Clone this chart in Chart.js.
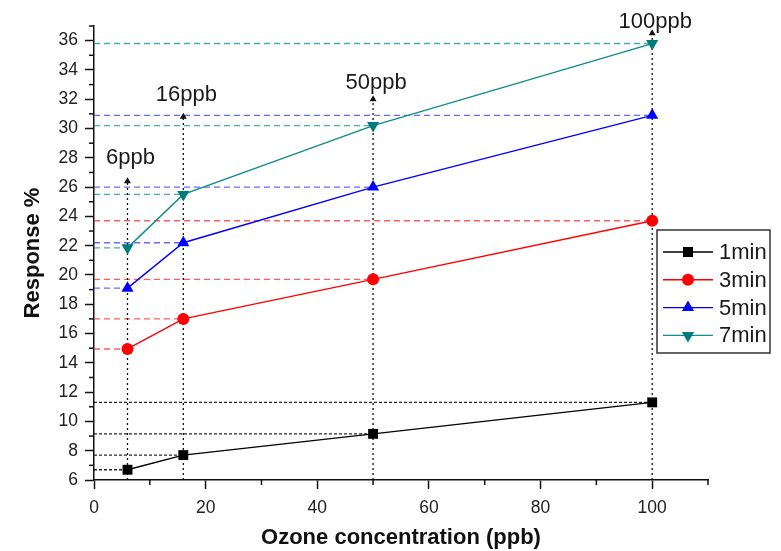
<!DOCTYPE html>
<html>
<head>
<meta charset="utf-8">
<script src="https://cdn.jsdelivr.net/npm/chart.js@4/dist/chart.umd.min.js"></script>
<style>
  body { margin: 0; background: #fff; }
</style>
</head>
<body>
<canvas id="myChart" width="781" height="551"></canvas>
<script>
// data
const concentrations = [6, 16, 50, 100];
const seriesNames = ['1min', '3min', '5min', '7min'];
const resp1min = [6.7, 7.7, 9.15, 11.3];
const resp3min = [14.95, 17.0, 19.7, 23.7];
const resp5min = [19.1, 22.2, 26.0, 30.9];
const resp7min = [21.85, 25.5, 30.2, 35.8];
const markLabels = ['6ppb', '16ppb', '50ppb', '100ppb'];
const arrowTops = [26.4, 30.8, 32.0, 36.5];
const labelY = [28.0, 32.3, 33.1, 37.3];
const yTicks = [6, 8, 10, 12, 14, 16, 18, 20, 22, 24, 26, 28, 30, 32, 34, 36];
const xTicks = [0, 20, 40, 60, 80, 100];

const FONT = 'Liberation Sans, Arial, sans-serif';
const allResp = [resp1min, resp3min, resp5min, resp7min];
const lineColors = ['#000000', '#ff0000', '#0000ff', '#0f8c8c'];
const markColors = ['#000000', '#ff0000', '#0000ff', '#007b7b'];
const guideColors = ['rgba(0,0,0,0.85)', 'rgba(255,40,40,0.75)', 'rgba(40,40,255,0.7)', 'rgba(20,150,150,0.8)'];
const styles = ['rect', 'circle', 'triangle', 'triangle'];
const rotations = [0, 0, 0, 180];
const radii = [7, 6, 7, 7];

let datasets = [];

// main series
allResp.forEach((vals, i) => {
    datasets.push({
        label: seriesNames[i],
        data: concentrations.map((c, k) => ({x: c, y: vals[k]})),
        borderColor: lineColors[i],
        backgroundColor: markColors[i],
        borderWidth: 1.4,
        pointStyle: styles[i],
        rotation: rotations[i],
        pointRadius: radii[i],
        pointBorderWidth: 0,
        pointBackgroundColor: markColors[i],
        order: 0
    });
});

// horizontal dashed guides from the y axis to each point
allResp.forEach((vals, i) => {
    concentrations.forEach((c, k) => {
        datasets.push({
            label: 'guide',
            data: [{x: 0, y: vals[k]}, {x: c, y: vals[k]}],
            borderColor: guideColors[i],
            borderWidth: 1.4,
            borderDash: i === 0 ? [3, 2] : [6, 4],
            pointRadius: 0,
            order: 2
        });
    });
});

// vertical dotted lines with arrow heads
concentrations.forEach((c, k) => {
    datasets.push({
        label: 'vline',
        data: [{x: c, y: 6}, {x: c, y: arrowTops[k]}],
        borderColor: '#111',
        borderWidth: 1.3,
        borderDash: [2, 3],
        pointStyle: 'triangle',
        pointRadius: [0, 4],
        pointBackgroundColor: '#111',
        pointBorderWidth: 0,
        order: 1
    });
});

const extras = {
    id: 'extras',
    afterDraw(chart) {
        const ctx = chart.ctx;
        const xs = chart.scales.x, ys = chart.scales.y;
        ctx.save();
        // minor ticks
        ctx.strokeStyle = '#111';
        ctx.lineWidth = 1.5;
        for (let v = 10; v <= 110; v += 20) {
            const px = xs.getPixelForValue(v);
            ctx.beginPath();
            ctx.moveTo(px, ys.bottom);
            ctx.lineTo(px, ys.bottom + 5);
            ctx.stroke();
        }
        for (let v = 7; v <= 37; v += 2) {
            const py = ys.getPixelForValue(v);
            ctx.beginPath();
            ctx.moveTo(xs.left, py);
            ctx.lineTo(xs.left - 5, py);
            ctx.stroke();
        }
        // concentration labels
        ctx.fillStyle = '#1a1a1a';
        ctx.font = '22px ' + FONT;
        ctx.textAlign = 'center';
        ctx.textBaseline = 'middle';
        markLabels.forEach((t, k) => {
            ctx.fillText(t, xs.getPixelForValue(concentrations[k]) + 3, ys.getPixelForValue(labelY[k]));
        });
        // legend box
        const bx = 657, by = 230, bw = 113, bh = 123;
        ctx.fillStyle = '#fff';
        ctx.fillRect(bx, by, bw, bh);
        ctx.strokeStyle = '#333';
        ctx.lineWidth = 1.5;
        ctx.strokeRect(bx, by, bw, bh);
        seriesNames.forEach((name, i) => {
            const y = 252 + i * 27.8;
            ctx.strokeStyle = lineColors[i];
            ctx.lineWidth = 1.4;
            ctx.beginPath();
            ctx.moveTo(663, y);
            ctx.lineTo(713, y);
            ctx.stroke();
            ctx.fillStyle = markColors[i];
            ctx.beginPath();
            if (styles[i] === 'rect') {
                ctx.rect(688 - 5, y - 5, 10, 10);
            } else if (styles[i] === 'circle') {
                ctx.arc(688, y, 6, 0, Math.PI * 2);
            } else {
                const s = rotations[i] ? -1 : 1;
                ctx.moveTo(688, y - 7 * s);
                ctx.lineTo(688 + 6.1, y + 3.5 * s);
                ctx.lineTo(688 - 6.1, y + 3.5 * s);
                ctx.closePath();
            }
            ctx.fill();
            ctx.fillStyle = '#1a1a1a';
            ctx.font = '22px ' + FONT;
            ctx.textAlign = 'left';
            ctx.textBaseline = 'middle';
            ctx.fillText(name, 719, y + 1);
        });
        ctx.restore();
    }
};

var ctx = document.getElementById('myChart').getContext('2d');
var chart = new Chart(ctx, {
    type: 'line',
    data: { datasets: datasets },
    options: {
        responsive: false,
        animation: false,
        layout: { padding: { top: 26, right: 73, left: 0, bottom: 0 } },
        plugins: { legend: { display: false }, tooltip: { enabled: false } },
        scales: {
            x: {
                type: 'linear',
                min: 0,
                max: 110,
                afterBuildTicks: s => { s.ticks = xTicks.map(v => ({value: v})); },
                afterFit: s => { s.height = 71; },
                ticks: { padding: 9, color: '#222', font: { size: 17.5, family: FONT } },
                grid: { drawOnChartArea: false, drawTicks: true, tickLength: 9, tickWidth: 1.5, tickColor: '#111' },
                border: { display: true, color: '#111', width: 1.5 },
                title: { display: true, text: 'Ozone concentration (ppb)', color: '#111',
                         font: { size: 22, weight: 'bold', family: FONT }, padding: { top: 0, bottom: 0 } }
            },
            y: {
                type: 'linear',
                min: 6,
                max: 37,
                afterBuildTicks: s => { s.ticks = yTicks.map(v => ({value: v})); },
                afterFit: s => { s.width = 94; },
                ticks: { padding: 7, color: '#222', font: { size: 17.5, family: FONT } },
                grid: { drawOnChartArea: false, drawTicks: true, tickLength: 9, tickWidth: 1.5, tickColor: '#111' },
                border: { display: true, color: '#111', width: 1.5 },
                title: { display: true, text: 'Response %', color: '#111',
                         font: { size: 22, weight: 'bold', family: FONT }, padding: { top: 20, bottom: 0 } }
            }
        }
    },
    plugins: [extras]
});
</script>
</body>
</html>
